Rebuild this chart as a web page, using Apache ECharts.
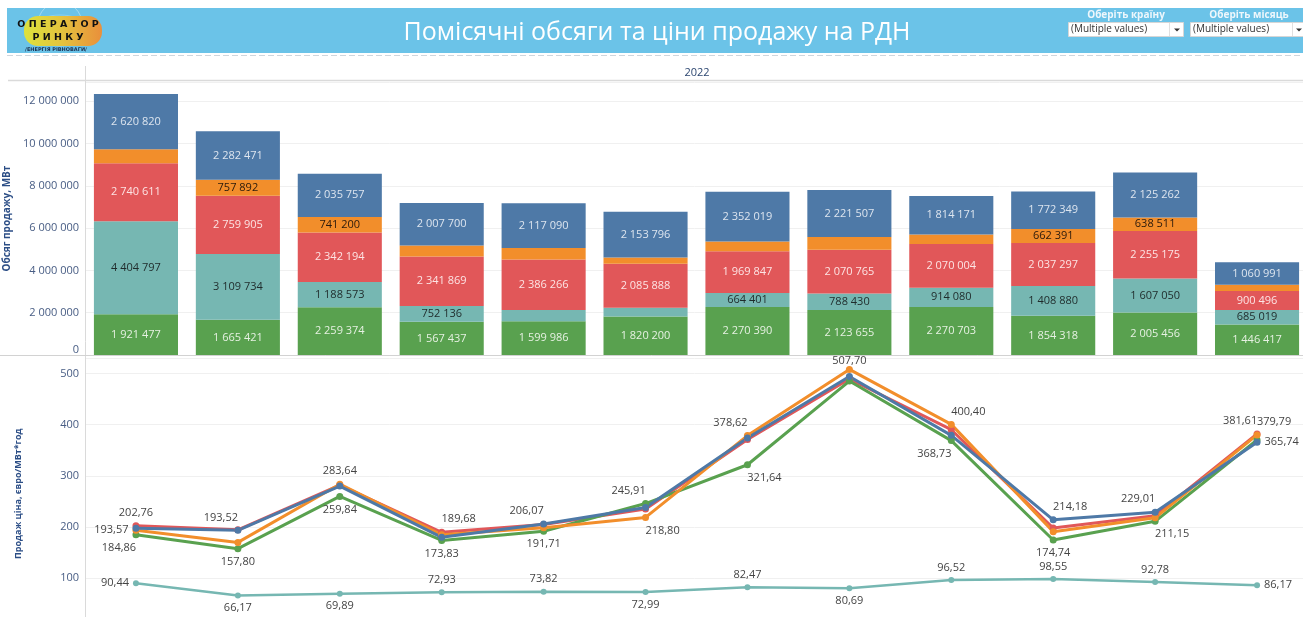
<!DOCTYPE html>
<html>
<head>
<meta charset="utf-8">
<script src="https://cdn.jsdelivr.net/npm/echarts@6/dist/echarts.min.js"></script>
<style>
html, body { margin: 0; padding: 0; background: #fff; }
#main { width: 1303px; height: 617px; }
</style>
</head>
<body>
<div id="main"></div>
<script>
var months = ['Січ', 'Лют', 'Бер', 'Кві', 'Тра', 'Чер', 'Лип', 'Сер', 'Вер', 'Жов', 'Лис', 'Гру'];

// обсяги продажу, МВт (шари знизу вгору)
var volGreen  = [1921477, 1665421, 2259374, 1567437, 1599986, 1820200, 2270390, 2123655, 2270703, 1854318, 2005456, 1446417];
var volTeal   = [4404797, 3109734, 1188573, 752136, 530000, 410000, 664401, 788430, 914080, 1408880, 1607050, 685019];
var volRed    = [2740611, 2759905, 2342194, 2341869, 2386266, 2085888, 1969847, 2070765, 2070004, 2037297, 2255175, 900496];
var volOrange = [660000, 757892, 741200, 520000, 540000, 300000, 460000, 600000, 445000, 662391, 638511, 290000];
var volBlue   = [2620820, 2282471, 2035757, 2007700, 2117090, 2153796, 2352019, 2221507, 1814171, 1772349, 2125262, 1060991];

// ціни продажу, євро/МВт*год
var priceRed    = [202.76, 194.5, 282.0, 189.68, 205.0, 235.0, 371.0, 489.0, 390.0, 198.0, 222.0, 381.61];
var priceOrange = [193.57, 170.0, 283.64, 185.0, 198.5, 218.80, 378.62, 507.70, 400.40, 191.0, 218.0, 379.79];
var priceBlue   = [197.5, 193.52, 280.0, 180.0, 206.07, 238.0, 374.0, 494.0, 379.0, 214.18, 229.01, 365.74];
var priceGreen  = [184.86, 157.80, 259.84, 173.83, 191.71, 245.91, 321.64, 485.0, 368.73, 174.74, 211.15, 370.0];
var priceTeal   = [90.44, 66.17, 69.89, 72.93, 73.82, 72.99, 82.47, 80.69, 96.52, 98.55, 92.78, 86.17];

// сегменти без підпису
var tealNoLabel = [4, 5];
var orangeNoLabel = [0, 3, 4, 5, 6, 7, 8, 11];

// підписи ліній: t/b/l/r + зсув вліво/вправо (tc - впритул зверху)
var redLabels    = {0: 't', 3: 'tr', 11: 'tl'};
var orangeLabels = {0: 'l', 2: 't', 5: 'br', 6: 'tl', 7: 'tc', 8: 'tr', 11: 'tr'};
var blueLabels   = {1: 'tl', 4: 'tl', 9: 'tr', 10: 'tl', 11: 'r'};
var greenLabels  = {0: 'bl', 1: 'b', 2: 'b', 3: 'b', 4: 'b', 5: 'tl', 6: 'br', 8: 'bl', 9: 'b', 10: 'br'};
var tealLabels   = {0: 'l', 1: 'b', 2: 'b', 3: 't', 4: 't', 5: 'b', 6: 't', 7: 'b', 8: 't', 9: 't', 10: 't', 11: 'r'};

var C_GREEN = '#59A14F', C_TEAL = '#76B7B2', C_RED = '#E15759', C_ORANGE = '#F28E2B', C_BLUE = '#4E79A7';
var FONT = '"Open Sans", sans-serif';

function fmt(v) {
	return String(v).replace(/\B(?=(\d{3})+(?!\d))/g, ' ');
}
function fmtPrice(v) {
	return v.toFixed(2).replace('.', ',');
}

function volData(arr, hidden) {
	return arr.map(function (v, i) {
		return hidden.indexOf(i) > -1 ? {value: v, label: {show: false}} : v;
	});
}

function placeLabel(code) {
	var pos = {t: 'top', b: 'bottom', l: 'left', r: 'right'}[code[0]];
	var dx = 0, dist = 4;
	if (code[1] === 'l') dx = -17;
	if (code[1] === 'r') dx = 17;
	if (code[1] === 'c') dist = 0;
	return {show: true, position: pos, offset: [dx, 0], distance: dist};
}

function priceData(arr, labels) {
	return arr.map(function (v, i) {
		var item = {value: v};
		if (labels[i]) item.label = placeLabel(labels[i]);
		return item;
	});
}

function barSeries(name, data, color, labelColor) {
	return {
		name: name,
		type: 'bar',
		stack: 'vol',
		xAxisIndex: 0,
		yAxisIndex: 0,
		barCategoryGap: '17.5%',
		data: data,
		itemStyle: {color: color},
		label: {
			show: true,
			position: 'inside',
			color: labelColor,
			fontSize: 11,
			fontFamily: FONT,
			formatter: function (p) { return fmt(p.value); }
		}
	};
}

function lineSeries(name, data, color, width, size) {
	return {
		name: name,
		type: 'line',
		xAxisIndex: 1,
		yAxisIndex: 1,
		data: data,
		symbol: 'circle',
		symbolSize: size,
		showAllSymbol: true,
		lineStyle: {color: color, width: width},
		itemStyle: {color: color},
		label: {
			show: false,
			color: '#444',
			fontSize: 11,
			fontFamily: FONT,
			formatter: function (p) { return fmtPrice(p.value); }
		}
	};
}

var chart = echarts.init(document.getElementById('main'));

var axisLabelStyle = {color: '#485d84', fontSize: 11, fontFamily: FONT, margin: 6};

var option = {
	animation: false,
	backgroundColor: '#fff',
	textStyle: {fontFamily: FONT},
	grid: [
		{left: 85, top: 82.2, width: 1223, height: 272.8, outerBoundsMode: 'none', containLabel: false},
		{left: 85, top: 358, width: 1223, height: 271.5, outerBoundsMode: 'none', containLabel: false}
	],
	xAxis: [
		{type: 'category', gridIndex: 0, data: months, show: false},
		{type: 'category', gridIndex: 1, data: months, show: false}
	],
	yAxis: [
		{
			type: 'value', gridIndex: 0, min: 0, max: 12900000, interval: 2000000,
			axisLine: {show: false}, axisTick: {show: false},
			axisLabel: Object.assign({}, axisLabelStyle, {
				formatter: fmt, showMaxLabel: false, verticalAlignMinLabel: 'bottom'
			}),
			splitLine: {lineStyle: {color: '#f0f0f0'}},
			name: 'Обсяг продажу, МВт', nameLocation: 'middle', nameGap: 66,
			nameTextStyle: {color: '#2c4e86', fontSize: 10, fontWeight: 'bold', fontFamily: FONT}
		},
		{
			type: 'value', gridIndex: 1, min: 0, max: 530, interval: 100,
			axisLine: {show: false}, axisTick: {show: false},
			axisLabel: Object.assign({}, axisLabelStyle, {showMaxLabel: false, showMinLabel: false}),
			splitLine: {lineStyle: {color: '#f0f0f0'}},
			name: 'Продаж ціна, євро/МВт*год', nameLocation: 'middle', nameGap: 62,
			nameTextStyle: {color: '#2c4e86', fontSize: 9, fontWeight: 'bold', fontFamily: FONT}
		}
	],
	series: [
		barSeries('Напрям 1', volGreen, C_GREEN, '#e6f1e2'),
		barSeries('Напрям 2', volData(volTeal, tealNoLabel), C_TEAL, '#1f2b2b'),
		barSeries('Напрям 3', volRed, C_RED, '#fde4e4'),
		barSeries('Напрям 4', volData(volOrange, orangeNoLabel), C_ORANGE, '#2a1a0c'),
		barSeries('Напрям 5', volBlue, C_BLUE, '#dde5ef'),
		lineSeries('Напрям 2', priceData(priceTeal, tealLabels), C_TEAL, 2.5, 6),
		lineSeries('Напрям 3', priceData(priceRed, redLabels), C_RED, 3, 7),
		lineSeries('Напрям 1', priceData(priceGreen, greenLabels), C_GREEN, 3, 7),
		lineSeries('Напрям 4', priceData(priceOrange, orangeLabels), C_ORANGE, 3, 7),
		lineSeries('Напрям 5', priceData(priceBlue, blueLabels), C_BLUE, 3, 7)
	],
	graphic: [
		// шапка
		{type: 'rect', shape: {x: 7, y: 8, width: 1300, height: 45}, style: {fill: '#6BC3E8'}, z: 10},
		{type: 'line', shape: {x1: 7, y1: 55.5, x2: 1303, y2: 55.5}, style: {stroke: '#cfd6dd', lineWidth: 1, lineDash: [6, 3]}, z: 10},
		{type: 'text', x: 657, y: 33, z: 11, style: {
			text: 'Помісячні обсяги та ціни продажу на РДН', fill: '#fff',
			font: '25px "Open Sans", sans-serif', textAlign: 'center', textVerticalAlign: 'middle'
		}},
		// логотип
		{type: 'circle', shape: {cx: 60, cy: 24, r: 22}, style: {fill: 'none', stroke: 'rgba(255,255,255,0.45)', lineWidth: 0.8}, z: 11},
		{type: 'ellipse', shape: {cx: 60, cy: 24, rx: 22, ry: 9}, style: {fill: 'none', stroke: 'rgba(255,255,255,0.35)', lineWidth: 0.6}, z: 11},
		{type: 'rect', shape: {x: 24, y: 16, width: 78, height: 30, r: 14}, z: 11, style: {
			fill: new echarts.graphic.LinearGradient(0, 0, 1, 0, [
				{offset: 0, color: '#dde23c'},
				{offset: 0.45, color: '#e3c63e'},
				{offset: 1, color: '#e98f3b'}
			])
		}},
		{type: 'text', x: 58, y: 25, z: 12, style: {
			text: 'О П Е Р А Т О Р', fill: '#111', font: 'bold 9.5px "DejaVu Sans", sans-serif',
			textAlign: 'center', textVerticalAlign: 'middle'
		}},
		{type: 'text', x: 58, y: 38, z: 12, style: {
			text: 'Р И Н К У', fill: '#111', font: 'bold 9.5px "DejaVu Sans", sans-serif',
			textAlign: 'center', textVerticalAlign: 'middle'
		}},
		{type: 'text', x: 56, y: 50, z: 12, style: {
			text: '/ЕНЕРГІЯ РІВНОВАГИ/', fill: '#1d3050', font: 'bold 5px "DejaVu Sans", sans-serif',
			textAlign: 'center', textVerticalAlign: 'middle'
		}},
		// фільтри
		{type: 'text', x: 1126, y: 15, z: 11, style: {
			text: 'Оберіть країну', fill: '#eef7fc', font: 'bold 10px "Open Sans", sans-serif',
			textAlign: 'center', textVerticalAlign: 'middle'
		}},
		{type: 'text', x: 1249, y: 15, z: 11, style: {
			text: 'Оберіть місяць', fill: '#eef7fc', font: 'bold 10px "Open Sans", sans-serif',
			textAlign: 'center', textVerticalAlign: 'middle'
		}},
		{type: 'rect', shape: {x: 1068.5, y: 22.5, width: 115, height: 14}, style: {fill: '#fff', stroke: '#d6d6d6'}, z: 11},
		{type: 'line', shape: {x1: 1169.5, y1: 23, x2: 1169.5, y2: 36}, style: {stroke: '#e0e0e0'}, z: 12},
		{type: 'polygon', shape: {points: [[1174, 28.5], [1180, 28.5], [1177, 31.5]]}, style: {fill: '#333'}, z: 12},
		{type: 'text', x: 1071, y: 29.5, z: 12, style: {
			text: '(Multiple values)', fill: '#333', font: '10px "Open Sans", sans-serif', textVerticalAlign: 'middle'
		}},
		{type: 'rect', shape: {x: 1190.5, y: 22.5, width: 120, height: 14}, style: {fill: '#fff', stroke: '#d6d6d6'}, z: 11},
		{type: 'line', shape: {x1: 1292.5, y1: 23, x2: 1292.5, y2: 36}, style: {stroke: '#e0e0e0'}, z: 12},
		{type: 'polygon', shape: {points: [[1296, 28.5], [1302, 28.5], [1299, 31.5]]}, style: {fill: '#333'}, z: 12},
		{type: 'text', x: 1193, y: 29.5, z: 12, style: {
			text: '(Multiple values)', fill: '#333', font: '10px "Open Sans", sans-serif', textVerticalAlign: 'middle'
		}},
		// заголовок стовпця і розділювачі
		{type: 'text', x: 697, y: 73, z: 11, style: {
			text: '2022', fill: '#2c4670', font: '11px "Open Sans", sans-serif',
			textAlign: 'center', textVerticalAlign: 'middle'
		}},
		{type: 'line', shape: {x1: 8, y1: 80.5, x2: 1303, y2: 80.5}, style: {stroke: '#dadada', lineWidth: 1.5}, z: 1},
		{type: 'line', shape: {x1: 85.5, y1: 66, x2: 85.5, y2: 617}, style: {stroke: '#dadada', lineWidth: 1}, z: 1},
		{type: 'line', shape: {x1: 0, y1: 355.5, x2: 1303, y2: 355.5}, style: {stroke: '#d2d2d2', lineWidth: 1}, z: 1}
	]
};

chart.setOption(option);
</script>
</body>
</html>
